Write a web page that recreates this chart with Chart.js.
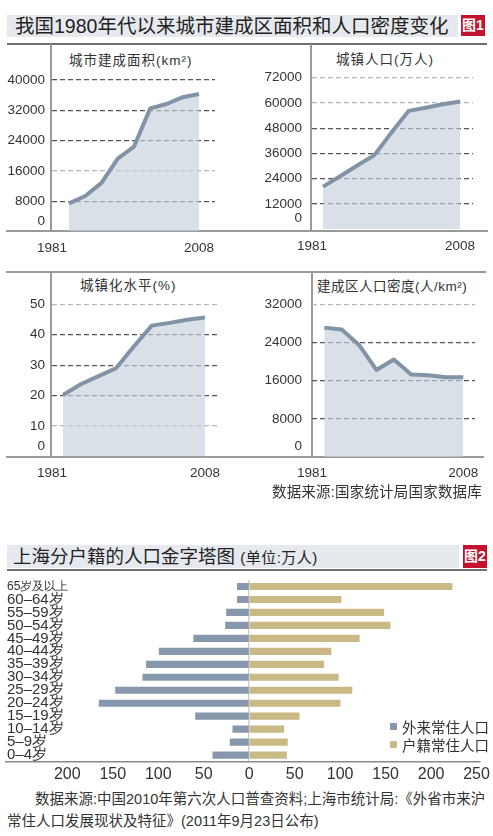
<!DOCTYPE html>
<html lang="zh">
<head>
<meta charset="utf-8">
<script src="https://cdn.jsdelivr.net/npm/chart.js@4.4.1/dist/chart.umd.min.js"></script>
<style>
  body { margin: 0; background: #fff; font-family: "Liberation Sans", "Noto Sans CJK SC", sans-serif; color: #333; }
  #page { position: relative; width: 493px; height: 836px; overflow: hidden; }
  .band { position: absolute; background: #e6e9ed; color: #222; white-space: nowrap; }
  .tag { position: absolute; background: #c5122e; color: #fff; font-weight: bold; font-size: 14px; text-align: center; }
  .hline { position: absolute; height: 2px; background: #9a9a9a; }
  .vline { position: absolute; width: 2px; background: #9a9a9a; }
  .ptitle { position: absolute; font-size: 13.5px; letter-spacing: 1px; line-height: 16px; white-space: nowrap; }
  .note { position: absolute; font-size: 14.5px; white-space: nowrap; }
  .key { position: absolute; font-size: 14.5px; line-height: 17px; white-space: nowrap; }
  .key i { display: inline-block; width: 7px; height: 7px; margin-right: 5px; vertical-align: 3px; }
  canvas { position: absolute; }
</style>
</head>
<body>
<div id="page">
  <!-- Figur 1: overskrift -->
  <div class="band" style="left:7px;top:15px;width:451px;height:22px;line-height:22px;font-size:19.5px;padding-left:8px;box-sizing:border-box;">我国1980年代以来城市建成区面积和人口密度变化</div>
  <div class="tag" style="left:461px;top:15px;width:24px;height:21px;line-height:21px;">图1</div>
  <div class="hline" style="left:7px;top:43px;width:480px;background:#707070;"></div>

  <!-- ramme for de fire små diagrammer -->
  <div class="vline" style="left:50px;top:44px;height:188px;"></div>
  <div class="vline" style="left:310px;top:44px;height:188px;"></div>
  <div class="hline" style="left:6px;top:230px;width:482px;"></div>
  <div class="hline" style="left:6px;top:271px;width:480px;"></div>
  <div class="vline" style="left:50px;top:272px;height:186px;"></div>
  <div class="vline" style="left:311px;top:272px;height:186px;"></div>
  <div class="hline" style="left:6px;top:456px;width:478px;"></div>

  <div class="ptitle" style="left:69px;top:53px;">城市建成面积(km²)</div>
  <div class="ptitle" style="left:336px;top:52px;">城镇人口(万人)</div>
  <div class="ptitle" style="left:80px;top:278px;">城镇化水平(%)</div>
  <div class="ptitle" style="left:317px;top:279px;letter-spacing:0.5px;">建成区人口密度(人/km²)</div>

  <canvas id="areaChart" width="246" height="216" style="left:0;top:44px;"></canvas>
  <canvas id="popChart" width="247" height="216" style="left:246px;top:44px;"></canvas>
  <canvas id="rateChart" width="246" height="228" style="left:0;top:272px;"></canvas>
  <canvas id="densityChart" width="247" height="228" style="left:246px;top:272px;"></canvas>

  <div class="note" style="right:11px;top:480px;font-size:14.5px;letter-spacing:0.2px;">数据来源:国家统计局国家数据库</div>

  <!-- Figur 2: overskrift -->
  <div class="band" style="left:7px;top:545px;width:452px;height:23px;line-height:23px;font-size:18.5px;padding-left:6px;box-sizing:border-box;">上海分户籍的人口金字塔图 <span style="font-size:15px;letter-spacing:0.5px;">(单位:万人)</span></div>
  <div class="tag" style="left:463px;top:545px;width:24px;height:23px;line-height:23px;">图2</div>
  <div class="hline" style="left:7px;top:569px;width:480px;background:#707070;"></div>

  <canvas id="pyramidChart" width="493" height="215" style="left:0;top:570px;"></canvas>

  <div class="key" style="left:390px;top:720px;"><i style="background:#8798ad;"></i>外来常住人口</div>
  <div class="key" style="left:390px;top:738px;"><i style="background:#c9b985;"></i>户籍常住人口</div>

  <div class="note" style="left:7px;top:789px;line-height:21.7px;">
    <span style="padding-left:28px;">数据来源:中国2010年第六次人口普查资料;上海市统计局:《外省市来沪</span><br>常住人口发展现状及特征》(2011年9月23日公布)
  </div>
</div>

<script>
// År der vises (lige afstand i diagrammet)
const years = ['1981', '1985', '1990', '1995', '2000', '2005', '2006', '2007', '2008'];
// Byens bebyggede areal (km²)
const builtArea = [7438, 9386, 12856, 19264, 22439, 32521, 33660, 35470, 36295];
// Bybefolkning (10.000 personer)
const urbanPop = [20171, 25094, 30195, 35174, 45906, 56212, 57706, 59379, 60667];
// Urbaniseringsgrad (%)
const urbanRate = [20.16, 23.71, 26.41, 29.04, 36.22, 42.99, 43.90, 44.94, 45.68];
// Befolkningstæthed i bebygget område (personer/km²)
const density = [27119, 26736, 23487, 18259, 20458, 17285, 17144, 16741, 16715];

// Akse-mærker for de fire små diagrammer
const areaTicks = [0, 8000, 16000, 24000, 32000, 40000];
const popTicks = [0, 12000, 24000, 36000, 48000, 60000, 72000];
const rateTicks = [0, 10, 20, 30, 40, 50];
const densityTicks = [0, 8000, 16000, 24000, 32000];

// Aldersgrupper i befolkningspyramiden (fra ældst til yngst)
const ageGroups = ['65岁及以上', '60–64岁', '55–59岁', '50–54岁', '45–49岁', '40–44岁', '35–39岁',
                   '30–34岁', '25–29岁', '20–24岁', '15–19岁', '10–14岁', '5–9岁', '0–4岁'];
// Tilflyttere (万人)
const migrantPop = [13, 13, 25, 26, 61, 99, 113, 117, 147, 165, 59, 18, 21, 40];
// Registrerede indbyggere (万人)
const localPop = [223, 101, 148, 155, 121, 90, 82, 98, 113, 100, 55, 38, 42, 41];
// Mærker på den vandrette akse
const pyramidTicks = [-200, -150, -100, -50, 0, 50, 100, 150, 200, 250];

const textColor = '#333';
const lineColor = '#8293a6';
const fillColor = 'rgba(196,207,220,0.65)';

// Laver et lille linjediagram med udfyldt område
function makeLineChart(id, values, yTicks, lightTicks, box) {
    const canvas = document.getElementById(id);
    return new Chart(canvas, {
        type: 'line',
        data: {
            datasets: [{
                data: values.map((v, i) => ({ x: i, y: v })),
                borderColor: lineColor,
                borderWidth: 4,
                borderJoinStyle: 'round',
                backgroundColor: fillColor,
                fill: 'start',
                pointRadius: 0,
                tension: 0
            }]
        },
        options: {
            responsive: false,
            animation: false,
            layout: { padding: { top: box.top, right: canvas.width - box.right, left: 0, bottom: 0 } },
            plugins: { legend: { display: false }, tooltip: { enabled: false } },
            scales: {
                x: {
                    type: 'linear',
                    min: box.xMin,
                    max: box.xMax,
                    grid: { display: false },
                    border: { display: false },
                    afterBuildTicks: s => { s.ticks = [{ value: box.xMin }, { value: years.length - 1 }]; },
                    afterFit: s => { s.height = canvas.height - box.bottom; },
                    ticks: {
                        autoSkip: false,
                        maxRotation: 0,
                        padding: box.xPad,
                        color: textColor,
                        font: { size: 13.5, family: 'Liberation Sans' },
                        callback: v => (v < 0 ? years[0] : years[years.length - 1])
                    }
                },
                y: {
                    min: 0,
                    max: yTicks[yTicks.length - 1],
                    afterBuildTicks: s => { s.ticks = yTicks.map(v => ({ value: v })); },
                    afterFit: s => { s.width = box.left; },
                    grid: {
                        drawTicks: false,
                        lineWidth: 1.2,
                        color: ctx => {
                            const v = ctx.tick ? ctx.tick.value : null;
                            if (v === 0) return 'rgba(0,0,0,0)';
                            return lightTicks.includes(v) ? '#b5b5b5' : '#555';
                        }
                    },
                    border: { display: false, dash: [5, 3] },
                    ticks: {
                        autoSkip: false,
                        padding: box.yPad,
                        color: textColor,
                        font: { size: 13.5, family: 'Liberation Sans', lineHeight: '21px' },
                        // 0 løftes lidt op over bundlinjen
                        callback: v => (v === 0 ? ['0', ''] : String(v))
                    }
                }
            }
        }
    });
}

makeLineChart('areaChart', builtArea, areaTicks, [16000],
    { left: 52, right: 215, top: 36, bottom: 187.6, xMin: -1.046, xMax: 8.985, yPad: 7, xPad: 1 });
makeLineChart('popChart', urbanPop, popTicks, [60000, 72000],
    { left: 66, right: 227, top: 33.7, bottom: 186.5, xMin: -0.642, xMax: 8.759, yPad: 10, xPad: 1 });
makeLineChart('rateChart', urbanRate, rateTicks, [10, 50],
    { left: 52, right: 217, top: 32.3, bottom: 184.4, xMin: -0.62, xMax: 8.676, yPad: 7, xPad: 1 });
makeLineChart('densityChart', density, densityTicks, [32000],
    { left: 66, right: 229, top: 32.3, bottom: 185.2, xMin: -0.708, xMax: 8.673, yPad: 10, xPad: 0 });

// Befolkningspyramide: tilflyttere til venstre, registrerede til højre
const pyr = document.getElementById('pyramidChart');
new Chart(pyr, {
    type: 'bar',
    data: {
        labels: ageGroups,
        datasets: [
            { label: '外来常住人口', data: migrantPop.map(v => -v), backgroundColor: '#8798ad', barThickness: 6.5 },
            { label: '户籍常住人口', data: localPop, backgroundColor: '#c9b985', barThickness: 6.5 }
        ]
    },
    options: {
        indexAxis: 'y',
        responsive: false,
        animation: false,
        layout: { padding: { top: 7.4, right: 13, left: 6, bottom: 0 } },
        plugins: { legend: { display: false }, tooltip: { enabled: false } },
        scales: {
            x: {
                stacked: true,
                min: -267.4,
                max: 253.5,
                afterBuildTicks: s => { s.ticks = pyramidTicks.map(v => ({ value: v })); },
                afterFit: s => { s.height = pyr.height - 191.6; },
                grid: {
                    drawTicks: false,
                    lineWidth: 1.5,
                    color: ctx => (ctx.tick && ctx.tick.value === 0 ? '#cfcfcf' : 'rgba(0,0,0,0)')
                },
                border: { display: true, color: '#8a8a8a', width: 1.5 },
                ticks: {
                    padding: 3,
                    color: textColor,
                    font: { size: 16, family: 'Liberation Sans' },
                    callback: v => String(Math.abs(v))
                }
            },
            y: {
                stacked: true,
                afterFit: s => { s.width = 0; },
                grid: { display: false },
                border: { display: false },
                ticks: {
                    autoSkip: false,
                    mirror: true,
                    crossAlign: 'near',
                    padding: 1,
                    color: textColor,
                    font: ctx => ({ size: ctx.index === 0 ? 12 : 15, family: 'Liberation Sans' })
                }
            }
        }
    }
});
</script>
</body>
</html>
